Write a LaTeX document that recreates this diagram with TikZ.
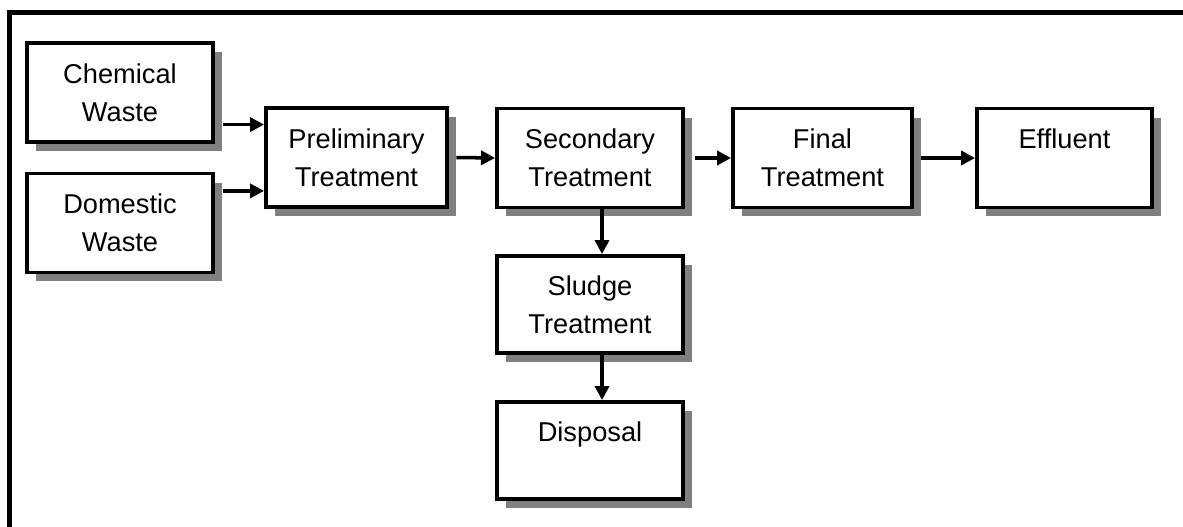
\documentclass[tikz,border=0pt]{standalone}
\usepackage{fontspec}
\setmainfont{Liberation Sans}
\usetikzlibrary{arrows.meta,shadows}
\definecolor{shadowgray}{RGB}{128,128,128}
\begin{document}
\begin{tikzpicture}[x=0.02cm,y=-0.02cm,
  box/.style={draw=black, line width=2.2pt, fill=white, rectangle, align=center,
    minimum width=3.72cm, minimum height=1.98cm, inner sep=0pt,
    font=\fontsize{15.5}{21.5}\selectfont,
    drop shadow={shadow xshift=0.18cm, shadow yshift=-0.18cm, fill=shadowgray, opacity=1}},
  arr/.style={line width=2pt, -{Triangle[length=8pt,width=8pt]}},
  frame/.style={line width=2.8pt}]
\useasboundingbox (0,0) rectangle (1183,527);
\clip (0,0) rectangle (1183,527);
\draw[frame] (9.5,12.5) rectangle (1220,560);

\node[box] (chem) at (120,92.5) {Chemical\\Waste};
\node[box] (dom) at (120,223) {Domestic\\Waste};
\node[box, minimum width=3.62cm] (pre) at (356.5,157.5) {Preliminary\\Treatment};
\node[box] (sec) at (590,158) {Secondary\\Treatment};
\node[box, minimum width=3.58cm] (fin) at (822.5,158) {Final\\Treatment};
\node[box, minimum width=3.5cm] (eff) at (1064.5,158) {Effluent\\\mbox{}};
\node[box, minimum height=1.94cm] (slu) at (590,304.5) {Sludge\\Treatment};
\node[box, minimum height=1.94cm] (dis) at (590,450.5) {Disposal\\\mbox{}};

\draw[arr] ([xshift=-0.82cm,yshift=-0.37cm]pre.north west) -- ([yshift=-0.37cm]pre.north west);
\draw[arr] ([xshift=-0.82cm,yshift=0.36cm]pre.south west) -- ([yshift=0.36cm]pre.south west);
\draw[arr] ([xshift=0.15cm]pre.east) -- (sec.west);
\draw[arr] ([xshift=0.2cm]sec.east) -- (fin.west);
\draw[arr] ([xshift=0.14cm]fin.east) -- (eff.west);
\draw[arr] ([xshift=0.24cm]sec.south) -- ([xshift=0.24cm]slu.north);
\draw[arr] ([xshift=0.24cm]slu.south) -- ([xshift=0.24cm]dis.north);
\end{tikzpicture}
\end{document}
